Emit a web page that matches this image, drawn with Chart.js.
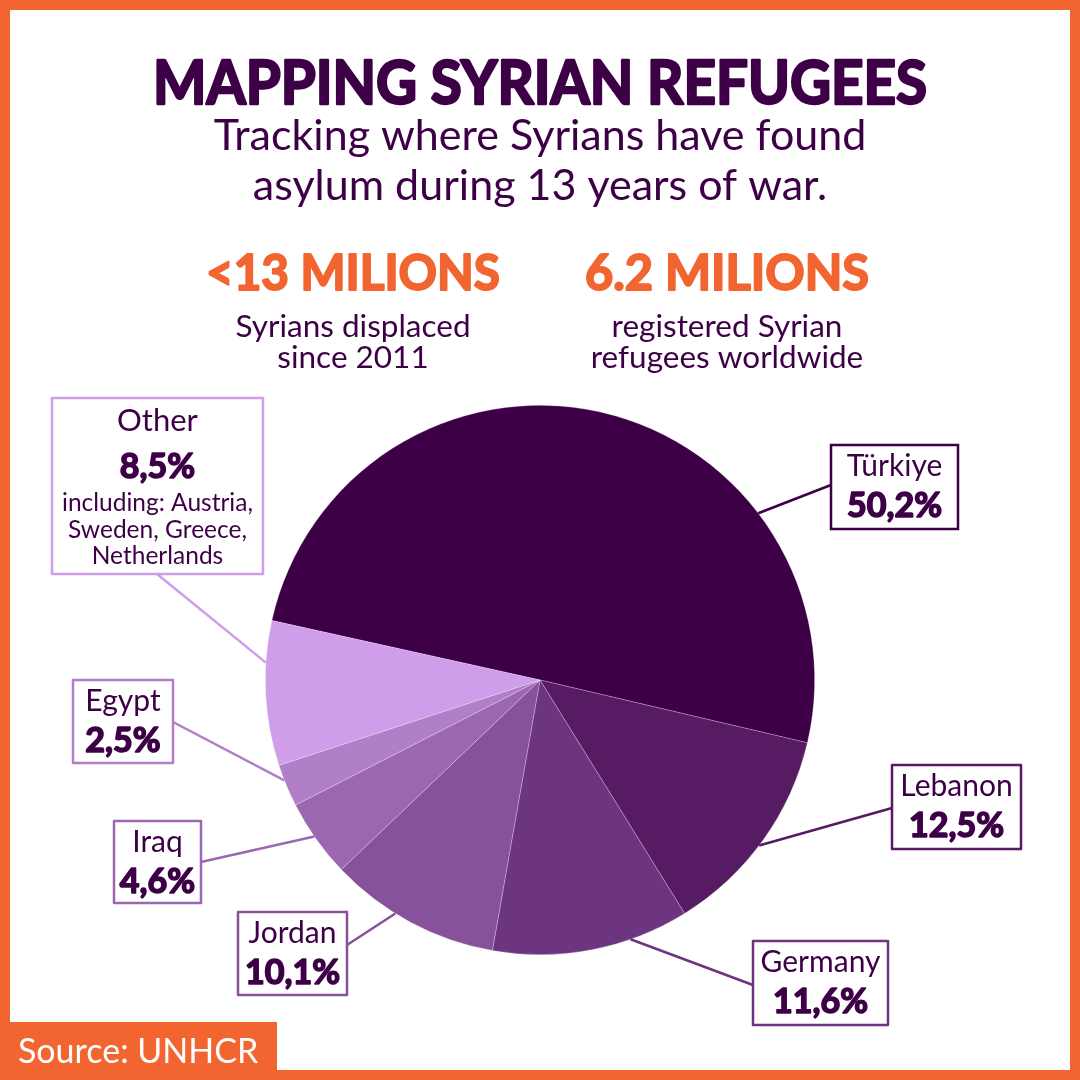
<!DOCTYPE html>
<html>
<head>
<meta charset="utf-8">
<script src="https://cdn.jsdelivr.net/npm/chart.js@4"></script>
<style>
  html, body { margin: 0; padding: 0; background: #fff; }
  #wrap { width: 1080px; height: 1080px; }
</style>
</head>
<body>
<div id="wrap"><canvas id="refugeeChart" width="1080" height="1080"></canvas></div>
<script>
// data
const countries = ['Türkiye', 'Lebanon', 'Germany', 'Jordan', 'Iraq', 'Egypt', 'Other'];
const shares = [50.2, 12.5, 11.6, 10.1, 4.6, 2.5, 8.5];
const otherNote = ['including: Austria,', 'Sweden, Greece,', 'Netherlands'];
const headline = ['<13 MILIONS', '6.2 MILIONS'];
const headlineNotes = [['Syrians displaced', 'since 2011'], ['registered Syrian', 'refugees worldwide']];

const colors = ['#3d0046', '#561b63', '#6d3580', '#87519c', '#9c67b1', '#b07fc7', '#cf9de9'];
const orange = '#f26530';
const ink = '#3d0046';
const FONT = 'Lato, "Open Sans", sans-serif';

// label boxes: [x, y, w, h], where the leader line meets the box, where on the slice it starts (0..1)
const boxes = [
    { box: [831, 445, 127, 84], join: [831, 485], at: 0.72 },
    { box: [892, 765, 129, 84], join: [892, 808], at: 0.53 },
    { box: [753, 941, 135, 84], join: [753, 985], at: 0.30 },
    { box: [238, 912, 109, 83], join: [347, 945], at: 0.60 },
    { box: [114, 821, 87, 82],  join: [201, 862], at: 0.54 },
    { box: [73, 680, 100, 83],  join: [173, 722], at: 0.63 },
    { box: [52, 398, 211, 176], join: [157, 574], at: 0.71 }
];

function pct(v) {
    return v.toFixed(1).replace('.', ',') + '%';
}

// bold text, thickened a bit with a stroke of the same colour
function heavy(c, text, x, y, maxW, weight) {
    c.lineWidth = weight;
    c.lineJoin = 'round';
    c.strokeStyle = c.fillStyle;
    if (maxW) {
        c.strokeText(text, x, y, maxW);
        c.fillText(text, x, y, maxW);
    } else {
        c.strokeText(text, x, y);
        c.fillText(text, x, y);
    }
}

const frame = {
    id: 'frame',
    beforeDraw(chart) {
        const c = chart.ctx;
        c.save();
        c.fillStyle = orange;
        c.fillRect(0, 0, 1080, 1080);
        c.fillStyle = '#ffffff';
        c.fillRect(10, 10, 1060, 1060);
        c.restore();
    },
    afterDatasetsDraw(chart) {
        const c = chart.ctx;
        const arcs = chart.getDatasetMeta(0).data;
        c.save();
        arcs.forEach(function(arc, i) {
            const b = boxes[i];
            const a = arc.startAngle + (arc.endAngle - arc.startAngle) * b.at;
            const px = arc.x + Math.cos(a) * arc.outerRadius;
            const py = arc.y + Math.sin(a) * arc.outerRadius;
            c.lineWidth = 2.5;
            c.strokeStyle = colors[i];
            c.beginPath();
            c.moveTo(px, py);
            c.lineTo(b.join[0], b.join[1]);
            c.stroke();

            const [x, y, w, h] = b.box;
            c.fillStyle = '#ffffff';
            c.fillRect(x, y, w, h);
            c.strokeRect(x, y, w, h);

            const cx = x + w / 2;
            c.textAlign = 'center';
            c.textBaseline = 'alphabetic';
            c.fillStyle = ink;
            if (countries[i] === 'Other') {
                c.font = '31px ' + FONT;
                c.fillText(countries[i], cx, y + 33, w - 6);
                c.font = 'bold 34px ' + FONT;
                heavy(c, pct(shares[i]), cx, y + 80, 0, 1.6);
                c.font = '24.5px ' + FONT;
                otherNote.forEach(function(t, k) {
                    c.fillText(t, cx, y + 113 + k * 26.5, w - 8);
                });
            } else {
                c.font = '30px ' + FONT;
                c.fillText(countries[i], cx, y + 31, w - 6);
                c.font = 'bold 34px ' + FONT;
                heavy(c, pct(shares[i]), cx, y + 72, w - 10, 1.6);
            }
        });
        c.restore();
    },
    afterDraw(chart) {
        const c = chart.ctx;
        c.save();
        c.textAlign = 'center';
        c.textBaseline = 'alphabetic';
        c.fillStyle = ink;
        c.font = 'bold 62px ' + FONT;
        heavy(c, 'MAPPING SYRIAN REFUGEES', 540, 104, 774, 2.5);
        c.font = '43px ' + FONT;
        c.fillText('Tracking where Syrians have found', 540, 150, 676);
        c.fillText('asylum during 13 years of war.', 540, 200, 576);

        const cols = [353, 727];
        headline.forEach(function(t, i) {
            c.fillStyle = orange;
            c.font = 'bold 50px ' + FONT;
            heavy(c, t, cols[i], 290, i === 0 ? 294 : 284, 2);
            c.fillStyle = ink;
            c.font = '31.5px ' + FONT;
            c.fillText(headlineNotes[i][0], cols[i], 337);
            c.fillText(headlineNotes[i][1], cols[i], 368);
        });

        c.fillStyle = orange;
        c.fillRect(10, 1022, 267, 50);
        c.fillStyle = '#ffffff';
        c.textAlign = 'left';
        c.font = '34px ' + FONT;
        c.fillText('Source: UNHCR', 18, 1063, 242);
        c.restore();
    }
};

document.addEventListener('DOMContentLoaded', function() {
    var ctx = document.getElementById('refugeeChart').getContext('2d');
    new Chart(ctx, {
        type: 'pie',
        data: {
            labels: countries,
            datasets: [{
                data: shares,
                backgroundColor: colors,
                borderColor: 'rgba(255, 255, 255, 0.35)',
                borderWidth: 0.7
            }]
        },
        options: {
            responsive: false,
            animation: false,
            rotation: -77.5,
            layout: {
                padding: { top: 405, bottom: 125, left: 265, right: 265 }
            },
            plugins: {
                legend: { display: false },
                tooltip: { enabled: false }
            }
        },
        plugins: [frame]
    });
});
</script>
</body>
</html>
